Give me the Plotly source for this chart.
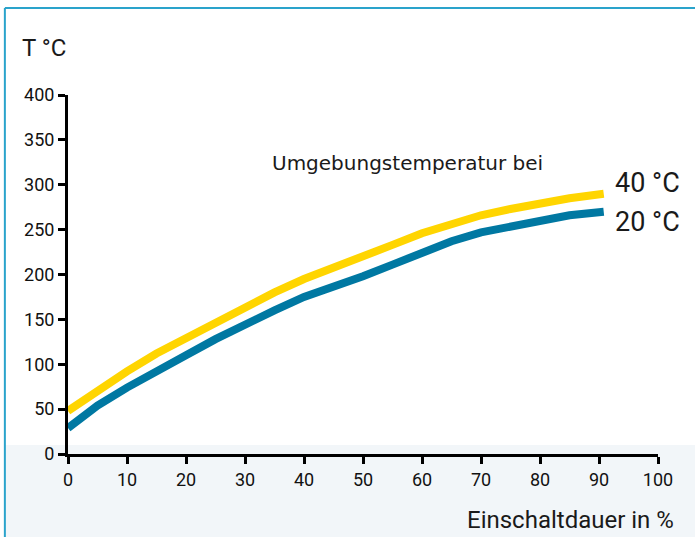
import plotly.graph_objects as go

x_vals = [0, 5, 10, 15, 20, 25, 30, 35, 40, 45, 50, 55, 60, 65, 70, 75, 80, 85, 90.8]
t40 = [48, 71, 92, 112, 129, 147, 164, 180, 195, 207, 219, 233, 246, 256, 266, 273, 280, 285, 290]
t20 = [29, 54, 74, 93, 110, 128, 145, 160, 175, 186, 198, 211, 225, 237, 247, 254, 261, 266, 270]
x_ticks = [0, 10, 20, 30, 40, 50, 60, 70, 80, 90, 100]
y_ticks = [0, 50, 100, 150, 200, 250, 300, 350, 400]

FONT = "Roboto, sans-serif"

fig = go.Figure()
fig.add_trace(go.Scatter(x=x_vals, y=t40, mode="lines", line=dict(color="#FFD500", width=8), showlegend=False))
fig.add_trace(go.Scatter(x=x_vals, y=t20, mode="lines", line=dict(color="#0078A2", width=8), showlegend=False))

fig.update_layout(
    width=695, height=537,
    margin=dict(l=68, r=37, t=95, b=83),
    paper_bgcolor="white", plot_bgcolor="rgba(0,0,0,0)",
    font=dict(family=FONT, color="#1a1a1a", size=17),
    xaxis=dict(range=[0, 100], tickvals=x_ticks, showgrid=False, zeroline=False,
               showline=True, linecolor="black", linewidth=3,
               ticks="outside", ticklen=7, tickwidth=3, tickcolor="black",
               tickfont=dict(family=FONT, size=18, color="#111111")),
    yaxis=dict(range=[0, 400], tickvals=y_ticks, showgrid=False, zeroline=False,
               showline=True, linecolor="black", linewidth=3,
               ticks="outside", ticklen=7, tickwidth=3, tickcolor="black",
               tickfont=dict(family=FONT, size=18, color="#111111")),
    shapes=[
        dict(type="rect", xref="paper", yref="paper", x0=-0.107, x1=1.07, y0=-0.235, y1=0.025,
             fillcolor="#f2f6f9", line=dict(width=0), layer="below"),
        dict(type="line", xref="paper", yref="paper", x0=-0.107, x1=1.07, y0=1.242, y1=1.242,
             line=dict(color="#2AA3CB", width=2)),
        dict(type="line", xref="paper", yref="paper", x0=-0.107, x1=-0.107, y0=-0.235, y1=1.242,
             line=dict(color="#2AA3CB", width=2)),
    ],
    annotations=[
        dict(text="T °C", xref="paper", yref="paper", x=-0.081, y=1.131, xanchor="left", yanchor="middle",
             showarrow=False, font=dict(family=FONT, size=24, color="#1a1a1a")),
        dict(text="Einschaltdauer in %", xref="paper", yref="paper", x=1.03, y=-0.184, xanchor="right",
             yanchor="middle", showarrow=False, font=dict(family=FONT, size=24, color="#1a1a1a")),
        dict(text="Umgebungstemperatur bei", xref="x", yref="y", x=34.2, y=324, xanchor="left",
             yanchor="middle", showarrow=False, font=dict(family="DejaVu Sans, sans-serif", size=20, color="#1a1a1a")),
        dict(text="40 °C", xref="x", yref="y", x=92.3, y=302, xanchor="left", yanchor="middle",
             showarrow=False, font=dict(family=FONT, size=27, color="#1a1a1a")),
        dict(text="20 °C", xref="x", yref="y", x=92.3, y=258, xanchor="left", yanchor="middle",
             showarrow=False, font=dict(family=FONT, size=27, color="#1a1a1a")),
    ],
)

fig.write_html("out.html", config={"displayModeBar": False},
               post_script="document.body.style.margin='0';document.body.style.overflow='hidden';")
